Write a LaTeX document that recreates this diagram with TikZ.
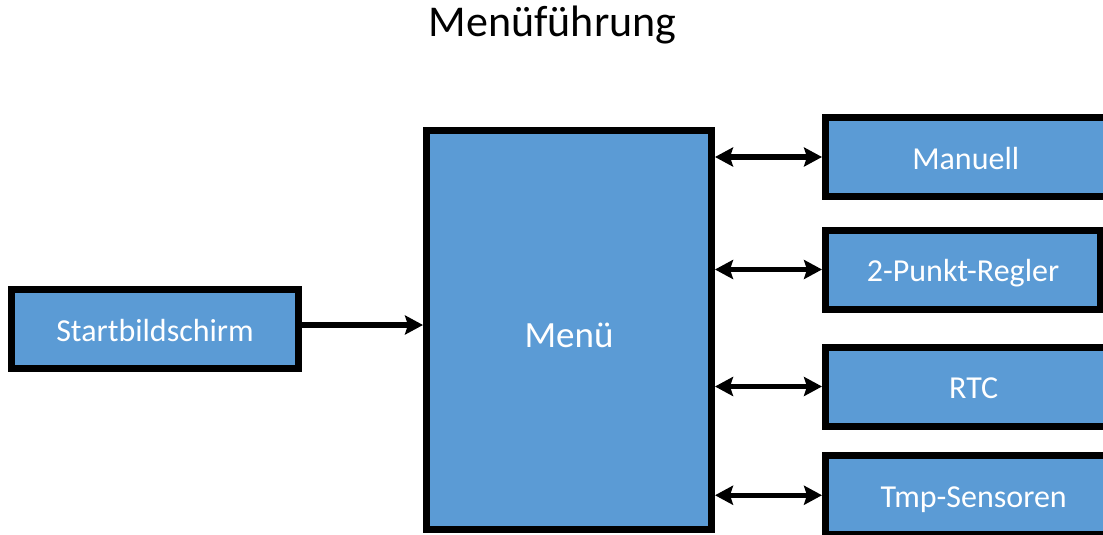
\documentclass[tikz,border=0pt]{standalone}
\usepackage{fontspec}
\setmainfont{Carlito}
\usetikzlibrary{arrows.meta}
\definecolor{boxblue}{HTML}{5B9BD5}
\tikzset{
  block/.style={draw=black, line width=7pt, fill=boxblue, text=white,
    inner sep=0pt, text height=24pt, text depth=0pt,
    font=\fontsize{32pt}{38pt}\selectfont},
  sidebox/.style={block, minimum height=79pt},
  conn/.style={line width=5.5pt},
  headtip/.tip={Stealth[length=18pt,width=19pt,inset=3pt]}
}
\begin{document}
\begin{tikzpicture}[x=1pt,y=-1pt]
  \useasboundingbox[fill=white] (0,0) rectangle (1103,535);
  % heading
  \node[anchor=base, font=\fontsize{44pt}{52pt}\selectfont] (title) at (552.5,37) {Menüführung};
  % main blocks
  \node[block, minimum width=287pt, minimum height=79pt] (start) at (155,329) {Startbildschirm};
  \node[block, minimum width=285pt, minimum height=399pt, text height=34pt,
        font=\fontsize{37pt}{44pt}\selectfont] (menu) at (569,330) {Menü};
  % submenus (their right ends run past the page edge)
  \node[sidebox, minimum width=280.5pt] (manuell) at (965.75,157) {Manuell};
  \node[sidebox, minimum width=275pt]   (regler)  at (963,269.5) {2-Punkt-Regler};
  \node[sidebox, minimum width=296.5pt] (rtc)     at (973.75,386.5) {RTC};
  \node[sidebox, minimum width=296.5pt] (sensor)  at (973.75,495.25) {Tmp-Sensoren};
  % connectors
  \draw[conn, -headtip] ([yshift=4pt]start.east) -- ([yshift=4pt]start.east -| menu.west);
  \foreach \n in {manuell, regler, rtc, sensor}
    \draw[conn, headtip-headtip] (\n.west -| menu.east) -- (\n.west);
\end{tikzpicture}
\end{document}
